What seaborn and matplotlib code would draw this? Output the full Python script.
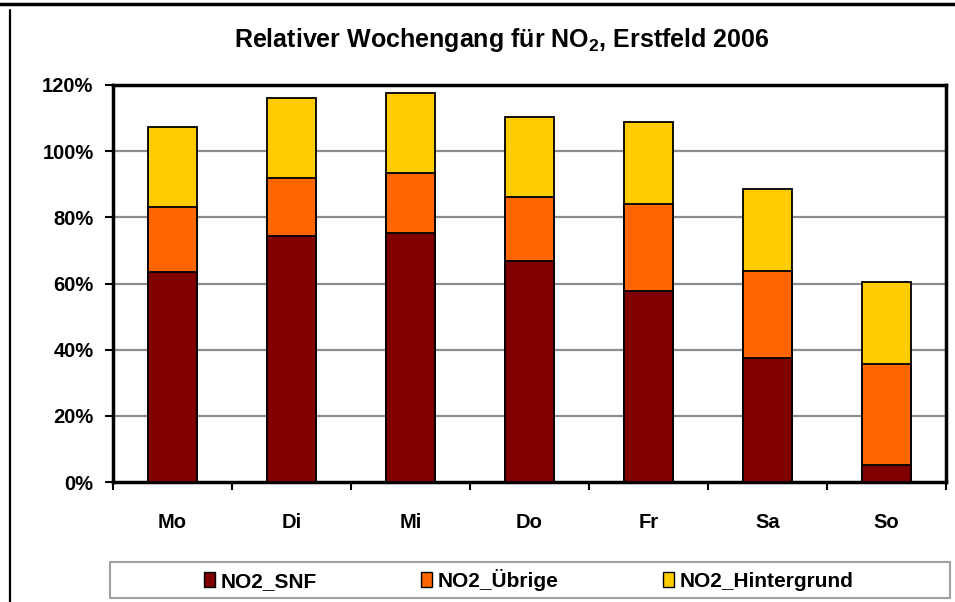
import numpy as np
import pandas as pd
import seaborn as sns
import matplotlib.pyplot as plt
from matplotlib.lines import Line2D
from matplotlib.patches import Patch, Rectangle
from matplotlib.ticker import FixedLocator

# Werte (in %)
tage = ["Mo", "Di", "Mi", "Do", "Fr", "Sa", "So"]
snf = [63.4, 74.3, 75.2, 66.9, 57.6, 37.4, 5.2]
uebrige = [19.8, 17.7, 18.2, 19.3, 26.4, 26.5, 30.6]
hintergrund = [24.2, 24.1, 24.2, 24.0, 24.8, 24.8, 24.7]

serien = ["NO2_SNF", "NO2_Übrige", "NO2_Hintergrund"]
farben = ["#800000", "#FF6600", "#FFCC00"]

dat = pd.DataFrame({"Tag": tage, "SNF": snf, "Uebrige": uebrige, "Hintergrund": hintergrund})
dat["c1"] = dat.SNF
dat["c2"] = dat.SNF + dat.Uebrige
dat["c3"] = dat.c2 + dat.Hintergrund

sns.set_style("white")
plt.rcParams["font.family"] = ["Liberation Sans", "DejaVu Sans"]
plt.rcParams["font.weight"] = "bold"
plt.rcParams["text.color"] = "black"
plt.rcParams["xtick.color"] = "black"
plt.rcParams["ytick.color"] = "black"
plt.rcParams["mathtext.fontset"] = "custom"
plt.rcParams["mathtext.rm"] = "Liberation Sans:bold"
plt.rcParams["mathtext.bf"] = "Liberation Sans:bold"

fig = plt.figure(figsize=(9.55, 6.02), dpi=100)
ax = fig.add_axes([113/955, 1-482/602, (946-113)/955, (482-85)/602])

# gestapelt: von hinten nach vorne zeichnen
for col, farbe in zip(["c3", "c2", "c1"], farben[::-1]):
    sns.barplot(data=dat, x="Tag", y=col, color=farbe, saturation=1, width=0.41,
                edgecolor="black", linewidth=1.3, ax=ax, zorder=3)

ax.set_ylim(0, 120)
ax.set_xlim(-0.5, 6.5)
ax.set_yticks(range(0, 121, 20))
ax.set_yticklabels([f"{v}%" for v in range(0, 121, 20)], fontsize=14.5, fontweight="bold")
ax.set_xticklabels(tage, fontsize=14.5, fontweight="bold")
ax.set_xlabel("")
ax.set_ylabel("")
for v in range(20, 101, 20):
    ax.axhline(v, color="#8c8c8c", lw=1.6, zorder=1)
ax.xaxis.set_minor_locator(FixedLocator(np.arange(-0.5, 7, 1)))
ax.tick_params(axis="x", which="major", length=0, pad=22)
ax.tick_params(axis="x", which="minor", length=6, width=1.5, direction="out", bottom=True)
ax.tick_params(axis="y", length=6, width=1.5, direction="out", left=True, pad=8)
for s in ax.spines.values():
    s.set_visible(True)
    s.set_color("black")
    s.set_linewidth(2.5)

fig.text(502/955, 1-40/602, "Relativer Wochengang für NO$_{2}$, Erstfeld 2006",
         ha="center", va="center", fontsize=18, fontweight="bold")

# Legendenrahmen
fig.add_artist(Rectangle((110/955, 1-598/602), 840/955, 36/602, transform=fig.transFigure,
                         facecolor="white", edgecolor="#a0a0a0", lw=1.5, zorder=0))
handles = [Patch(facecolor=f, edgecolor="black", linewidth=1) for f in farben]
leg = fig.legend(handles, serien, loc="center", ncol=3,
                 bbox_to_anchor=(529/955, 1-580/602),
                 fontsize=15, frameon=False, handlelength=0.5,
                 handleheight=0.7, handletextpad=0.3, columnspacing=5.0)
for t in leg.get_texts():
    t.set_fontweight("bold")

# äusserer Rahmen (oben und links sichtbar)
fig.add_artist(Line2D([0, 1], [1-4/602, 1-4/602], color="black", lw=2.5))
fig.add_artist(Line2D([10/955, 10/955], [1-10/602, 0], color="black", lw=1.6))

fig.savefig("out.png", dpi=100)
